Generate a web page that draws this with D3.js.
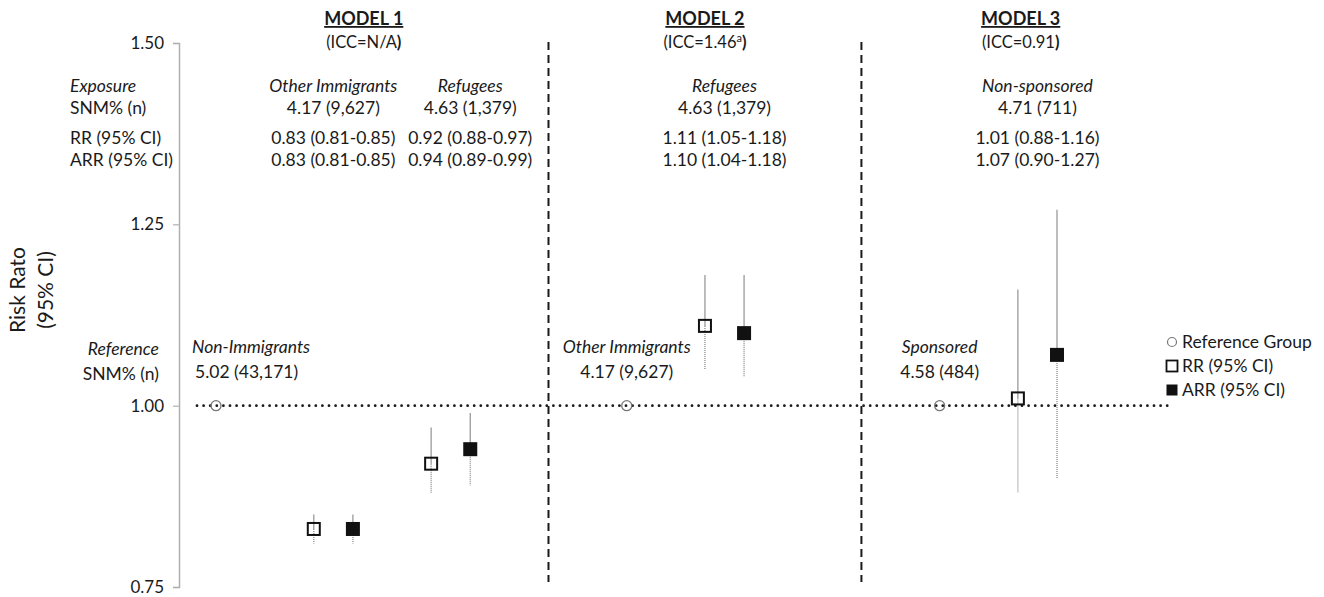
<!DOCTYPE html>
<html>
<head>
<meta charset="utf-8">
<script src="https://cdn.jsdelivr.net/npm/d3@7"></script>
<style>
  body { margin: 0; background: #fff; }
  text { font-family: Lato, "Open Sans", sans-serif; fill: #1a1a1a; }
</style>
</head>
<body>
<div id="chart"></div>
<script>
/*************************************/
/* Data                              */
/*************************************/

const modelNames = ['MODEL 1', 'MODEL 2', 'MODEL 3'];
const iccValues = ['N/A', '1.46', '0.91'];
const iccNotes = ['', 'a', ''];

// reference group per model
const refNames = ['Non-Immigrants', 'Other Immigrants', 'Sponsored'];
const refSNM = ['5.02 (43,171)', '4.17 (9,627)', '4.58 (484)'];
const refValue = [1.00, 1.00, 1.00];

// exposure groups
const expModel = [0, 0, 1, 2];
const expNames = ['Other Immigrants', 'Refugees', 'Refugees', 'Non-sponsored'];
const expSNM = ['4.17 (9,627)', '4.63 (1,379)', '4.63 (1,379)', '4.71 (711)'];
const rr = [0.83, 0.92, 1.11, 1.01];
const rrLow = [0.81, 0.88, 1.05, 0.88];
const rrHigh = [0.85, 0.97, 1.18, 1.16];
const arr = [0.83, 0.94, 1.10, 1.07];
const arrLow = [0.81, 0.89, 1.04, 0.90];
const arrHigh = [0.85, 0.99, 1.18, 1.27];

const yTicks = [0.75, 1.00, 1.25, 1.50];
const legendLabels = ['Reference Group', 'RR (95% CI)', 'ARR (95% CI)'];


/*************************************/
/* Layout                            */
/*************************************/

const width = 1324;
const height = 597;

// category slots along x (Excel-like positions)
const refSlot = [1, 11.5, 19.5];
const expSlot = [3.5, 6.5, 13.5, 21.5];
const expTextSlot = [4, 7.5, 14, 22];
const dividerSlot = [9.5, 17.5];

const x = d3.scaleLinear().domain([1, 22.5]).range([216, 1057]);
const y = d3.scaleLinear().domain([0.75, 1.50]).range([587, 43]);

const axisX = 179;
const lineEnd = 1170;
const fs = 17.5;

const svg = d3.select('#chart')
  .append('svg')
  .attr('width', width)
  .attr('height', height);

const fmt = d3.format('.2f');
const ci = (v, lo, hi) => `${fmt(v)} (${fmt(lo)}-${fmt(hi)})`;


/*************************************/
/* Axis                              */
/*************************************/

const yAxis = svg.append('g')
  .attr('transform', `translate(${axisX},0)`)
  .call(d3.axisLeft(y).tickValues(yTicks).tickFormat(fmt).tickSizeInner(6).tickSizeOuter(6).tickPadding(9));

yAxis.select('.domain').attr('stroke', '#b0b0b0').attr('stroke-width', 1.5);
yAxis.selectAll('.tick line').attr('stroke', '#b0b0b0').attr('stroke-width', 1.2);
yAxis.selectAll('.tick text')
  .attr('font-size', 17)
  .attr('font-family', 'Lato, sans-serif')
  .attr('fill', '#1a1a1a');

// axis title
const yTitle = svg.append('text')
  .attr('transform', 'translate(0,290) rotate(-90)')
  .attr('text-anchor', 'middle')
  .attr('font-size', 21);
yTitle.append('tspan').attr('x', 0).attr('y', 25).text('Risk Rato');
yTitle.append('tspan').attr('x', 0).attr('y', 53).text('(95% CI)');


/*************************************/
/* Dividers and reference line       */
/*************************************/

svg.append('g')
  .selectAll('line')
  .data(dividerSlot)
  .join('line')
    .attr('x1', d => x(d))
    .attr('x2', d => x(d))
    .attr('y1', 42)
    .attr('y2', 582)
    .attr('stroke', '#1a1a1a')
    .attr('stroke-width', 2)
    .attr('stroke-dasharray', '8,5');

svg.append('line')
  .attr('x1', 197)
  .attr('x2', lineEnd)
  .attr('y1', y(1))
  .attr('y2', y(1))
  .attr('stroke', '#1a1a1a')
  .attr('stroke-width', 2.8)
  .attr('stroke-linecap', 'round')
  .attr('stroke-dasharray', '0,6.6');


/*************************************/
/* Header text                       */
/*************************************/

const bounds = [axisX, x(dividerSlot[0]), x(dividerSlot[1]), lineEnd + 10];

const header = svg.append('g');
modelNames.forEach((m, i) => {
  const cx = (bounds[i] + bounds[i + 1]) / 2;
  header.append('text')
    .attr('x', cx)
    .attr('y', 25)
    .attr('text-anchor', 'middle')
    .attr('font-size', 18)
    .attr('font-weight', 'bold')
    .attr('text-decoration', 'underline')
    .text(m);
  const icc = header.append('text')
    .attr('x', cx)
    .attr('y', 48)
    .attr('text-anchor', 'middle')
    .attr('font-size', 16.5);
  icc.append('tspan').text(`(ICC=${iccValues[i]}`);
  if (iccNotes[i]) {
    icc.append('tspan').attr('font-size', 11).attr('dy', -6).text(iccNotes[i]);
    icc.append('tspan').attr('dy', 6).attr('font-weight', 'bold').text(')');
  } else {
    icc.append('tspan').attr('font-weight', 'bold').text(')');
  }
});

// row labels on the left
const rowLabels = svg.append('g').attr('font-size', fs);
rowLabels.append('text').attr('x', 70).attr('y', 92).attr('font-style', 'italic').text('Exposure');
rowLabels.append('text').attr('x', 70).attr('y', 114).text('SNM% (n)');
rowLabels.append('text').attr('x', 70).attr('y', 144).text('RR (95% CI)');
rowLabels.append('text').attr('x', 70).attr('y', 166).text('ARR (95% CI)');
rowLabels.append('text').attr('x', 159).attr('y', 355).attr('text-anchor', 'end').attr('font-style', 'italic').text('Reference');
rowLabels.append('text').attr('x', 159).attr('y', 380).attr('text-anchor', 'end').text('SNM% (n)');

// exposure columns
const expIdx = d3.range(expNames.length);
const expText = svg.append('g')
  .attr('font-size', fs)
  .attr('text-anchor', 'middle')
  .selectAll('g')
  .data(expIdx)
  .join('g')
    .attr('transform', i => `translate(${x(expTextSlot[i])},0)`);

expText.append('text').attr('y', 92).attr('font-style', 'italic').text(i => expNames[i]);
expText.append('text').attr('y', 114).text(i => expSNM[i]);
expText.append('text').attr('y', 144).text(i => ci(rr[i], rrLow[i], rrHigh[i]));
expText.append('text').attr('y', 166).text(i => ci(arr[i], arrLow[i], arrHigh[i]));

// reference group labels
const refIdx = d3.range(refNames.length);
const refText = svg.append('g')
  .attr('font-size', fs)
  .selectAll('g')
  .data(refIdx)
  .join('g')
    .attr('transform', i => i === 0
      ? `translate(${x(refSlot[i]) - 24},0)`
      : `translate(${x(refSlot[i])},0)`)
    .attr('text-anchor', i => i === 0 ? 'start' : 'middle');

refText.append('text').attr('y', 353).attr('font-style', 'italic').text(i => refNames[i]);
refText.append('text').attr('x', i => i === 0 ? 3 : 0).attr('y', 378).text(i => refSNM[i]);


/*************************************/
/* Error bars and markers            */
/*************************************/

const points = [];
expIdx.forEach(i => {
  points.push({ type: 'rr', slot: expSlot[i], v: rr[i], lo: rrLow[i], hi: rrHigh[i] });
  points.push({ type: 'arr', slot: expSlot[i] + 1, v: arr[i], lo: arrLow[i], hi: arrHigh[i] });
});

const bars = svg.append('g');
// upper part solid
bars.selectAll('.up')
  .data(points)
  .join('line')
    .attr('class', 'up')
    .attr('x1', d => x(d.slot)).attr('x2', d => x(d.slot))
    .attr('y1', d => y(d.v)).attr('y2', d => y(d.hi))
    .attr('stroke', '#9a9a9a')
    .attr('stroke-width', 1.3);
// lower part dotted
bars.selectAll('.down')
  .data(points)
  .join('line')
    .attr('class', 'down')
    .attr('x1', d => x(d.slot)).attr('x2', d => x(d.slot))
    .attr('y1', d => y(d.v)).attr('y2', d => y(d.lo))
    .attr('stroke', '#8a8a8a')
    .attr('stroke-width', 1.3)
    .attr('stroke-dasharray', '1,1');

// squares
svg.append('g')
  .selectAll('rect')
  .data(points)
  .join('rect')
    .attr('x', d => x(d.slot) - (d.type === 'rr' ? 6 : 7))
    .attr('y', d => y(d.v) - (d.type === 'rr' ? 6 : 7))
    .attr('width', d => d.type === 'rr' ? 12 : 14)
    .attr('height', d => d.type === 'rr' ? 12 : 14)
    .attr('fill', d => d.type === 'rr' ? 'none' : '#111')
    .attr('stroke', '#111')
    .attr('stroke-width', d => d.type === 'rr' ? 2 : 0);

// reference circles
svg.append('g')
  .selectAll('circle')
  .data(refIdx)
  .join('circle')
    .attr('cx', i => x(refSlot[i]))
    .attr('cy', i => y(refValue[i]))
    .attr('r', 5)
    .attr('fill', 'none')
    .attr('stroke', '#777')
    .attr('stroke-width', 1.3);


/*************************************/
/* Legend                            */
/*************************************/

const legend = svg.append('g')
  .attr('transform', 'translate(1172,342)')
  .selectAll('g')
  .data(legendLabels)
  .join('g')
    .attr('transform', (d, i) => `translate(0,${i * 24})`);

legend.filter((d, i) => i === 0).append('circle')
  .attr('r', 4.5).attr('fill', 'none').attr('stroke', '#777').attr('stroke-width', 1.2);
legend.filter((d, i) => i === 1).append('rect')
  .attr('x', -5.5).attr('y', -5.5).attr('width', 11).attr('height', 11)
  .attr('fill', 'none').attr('stroke', '#111').attr('stroke-width', 1.8);
legend.filter((d, i) => i === 2).append('rect')
  .attr('x', -5.5).attr('y', -5.5).attr('width', 11).attr('height', 11)
  .attr('fill', '#111');

legend.append('text')
  .attr('x', 10)
  .attr('y', 6)
  .attr('font-size', fs)
  .text(d => d);
</script>
</body>
</html>
